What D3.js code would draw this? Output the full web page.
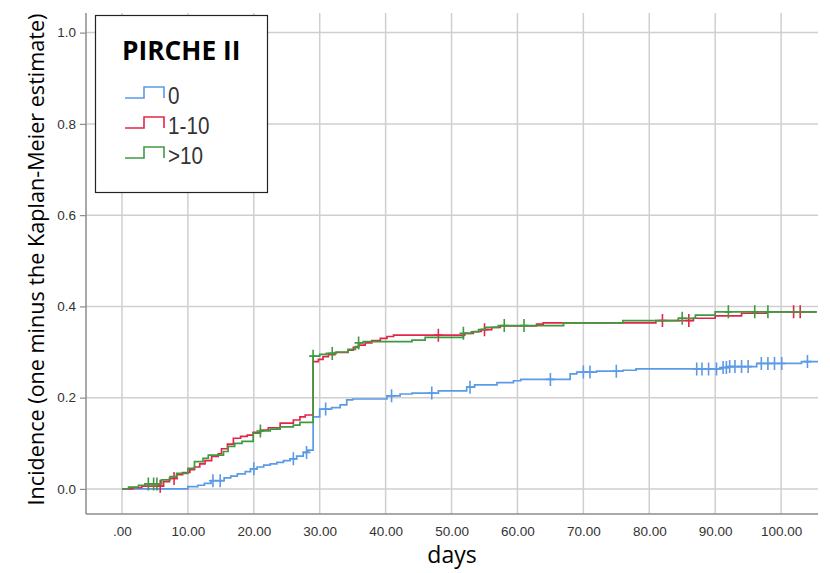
<!DOCTYPE html>
<html>
<head>
<meta charset="utf-8">
<script src="https://cdn.jsdelivr.net/npm/d3@7"></script>
<style>
  html, body { margin: 0; padding: 0; background: #fff; }
  svg { display: block; }
</style>
</head>
<body>
<svg id="chart" width="830" height="573"></svg>
<script>
// Cumulative incidence (1 - KM) by PIRCHE II group: [day, incidence] step events
const groupNames = ["0", "1-10", ">10"];
const groupColors = ["#5b9ae6", "#e2264b", "#3f9a3f"];

const stepsNone = [
  [0, 0], [10, 0.005], [11.5, 0.008], [12.5, 0.012], [13.5, 0.018], [15.5, 0.024],
  [16.5, 0.028], [17.5, 0.033], [18.7, 0.038], [19.5, 0.044], [20.5, 0.048],
  [21.5, 0.052], [22.5, 0.055], [23.5, 0.058], [24.5, 0.062], [25.5, 0.066],
  [26.5, 0.072], [27.5, 0.08], [28.2, 0.085], [29, 0.158], [30, 0.175],
  [31.8, 0.178], [33.1, 0.184], [34.1, 0.195], [35, 0.197], [40.2, 0.204],
  [42.2, 0.208], [44, 0.21], [48, 0.215], [52.3, 0.223], [53.5, 0.228],
  [56.9, 0.233], [59.4, 0.237], [60.5, 0.24], [68, 0.252], [69, 0.256],
  [72, 0.258], [76, 0.26], [78, 0.263], [91, 0.266], [92, 0.268],
  [96.3, 0.275], [103.1, 0.279]
];
const stepsLow = [
  [0, 0], [1.6, 0.003], [3, 0.006], [6.3, 0.016], [7.2, 0.023], [8.3, 0.031],
  [9.2, 0.036], [10.3, 0.042], [11, 0.048], [11.8, 0.055], [12.6, 0.062],
  [13.6, 0.071], [14.6, 0.077], [15.1, 0.088], [16, 0.098], [16.9, 0.111],
  [18, 0.115], [19, 0.118], [19.9, 0.124], [21, 0.129], [22.2, 0.134],
  [24, 0.144], [26, 0.151], [27, 0.158], [27.8, 0.162], [29, 0.279],
  [29.8, 0.284], [30.5, 0.29], [31.3, 0.294], [32.3, 0.299], [34.3, 0.304],
  [35.1, 0.31], [35.9, 0.315], [36.9, 0.32], [37.9, 0.325], [39.2, 0.33],
  [40.2, 0.334], [41.2, 0.337], [52, 0.341], [53.3, 0.345], [54.5, 0.349],
  [56.1, 0.354], [57.4, 0.357], [62.9, 0.361], [63.9, 0.364], [81, 0.369],
  [86.7, 0.374], [90, 0.379], [94, 0.385], [97.8, 0.388]
];
const stepsHigh = [
  [0, 0], [1, 0.004], [2.5, 0.008], [3.5, 0.011], [6, 0.02], [7.3, 0.027],
  [8.3, 0.034], [10, 0.045], [11, 0.06], [12.3, 0.067], [13.1, 0.074],
  [15.4, 0.082], [16.1, 0.093], [17.1, 0.1], [18.2, 0.104], [19.9, 0.122],
  [21, 0.127], [22.5, 0.131], [24, 0.136], [26, 0.14], [27, 0.146],
  [29, 0.291], [30, 0.295], [31, 0.297], [32.5, 0.3], [34.3, 0.306],
  [35.4, 0.312], [35.9, 0.32], [36.6, 0.323], [44, 0.326], [46, 0.332],
  [51.8, 0.341], [53, 0.344], [54.1, 0.349], [55.1, 0.354], [57.1, 0.358],
  [67, 0.364], [76, 0.369], [84.4, 0.374], [87, 0.381], [90, 0.388]
];

// Censored observations (days)
const censorNone = [13.8, 14.9, 20, 26, 28, 30.9, 40.9, 47, 52.8, 65, 70, 71, 75,
  87.2, 88, 89, 90.2, 91.2, 91.7, 92.2, 93, 94, 95, 97, 98, 99, 100.1, 104];
const censorLow = [5.8, 7.9, 48, 55, 82, 86, 101.9, 102.9];
const censorHigh = [4, 4.8, 5.3, 21, 29, 31.9, 35.9, 51.8, 58, 61, 85, 92, 96, 98];

// Follow-up end
const lastDay = [105.6, 105.4, 105.4];

const xTicks = [0, 10, 20, 30, 40, 50, 60, 70, 80, 90, 100];
const yTicks = [0, 0.2, 0.4, 0.6, 0.8, 1.0];

const svg = d3.select("#chart");
const x = d3.scaleLinear().domain([-5.46, 105.6]).range([86, 818]);
const y = d3.scaleLinear().domain([-0.055, 1.043]).range([514, 13]);

const gridColor = "#cfcfcf";
const axisColor = "#8c8c8c";

// Grid
svg.append("g").selectAll("line").data(xTicks).join("line")
  .attr("x1", d => x(d)).attr("x2", d => x(d))
  .attr("y1", y.range()[1]).attr("y2", y.range()[0])
  .attr("stroke", gridColor).attr("stroke-width", 1.5);
svg.append("g").selectAll("line").data(yTicks).join("line")
  .attr("x1", x.range()[0]).attr("x2", x.range()[1])
  .attr("y1", d => y(d)).attr("y2", d => y(d))
  .attr("stroke", gridColor).attr("stroke-width", 1.5);

// Axes
const xAxis = d3.axisBottom(x).tickValues(xTicks).tickSize(0).tickPadding(12)
  .tickFormat(d => d === 0 ? ".00" : d3.format(".2f")(d));
const gx = svg.append("g").attr("transform", `translate(0,${y.range()[0]})`).call(xAxis);
const yAxis = d3.axisLeft(y).tickValues(yTicks).tickSize(6).tickPadding(4)
  .tickFormat(d3.format(".1f"));
const gy = svg.append("g").attr("transform", `translate(${x.range()[0]},0)`).call(yAxis);
[gx, gy].forEach(g => {
  g.select(".domain").attr("stroke", axisColor).attr("stroke-width", 1.5);
  g.selectAll(".tick line").attr("stroke", axisColor).attr("stroke-width", 1.2);
  g.selectAll(".tick text").attr("fill", "#333")
    .style("font-family", "'Liberation Sans', Arial, sans-serif").style("font-size", "13.5px");
});
gy.select(".domain").attr("d", `M0,${y.range()[0]}V${y.range()[1]}`);
gx.select(".domain").attr("d", `M${x.range()[0]},0H${x.range()[1]}`);

// Step curves
const series = [
  { steps: stepsNone, censor: censorNone },
  { steps: stepsLow, censor: censorLow },
  { steps: stepsHigh, censor: censorHigh }
];
const line = d3.line().x(d => x(d[0])).y(d => y(d[1])).curve(d3.curveStepAfter);

function valueAt(steps, day) {
  let v = 0;
  for (const s of steps) { if (s[0] <= day) v = s[1]; }
  return v;
}

series.forEach((s, i) => {
  const pts = s.steps.concat([[lastDay[i], s.steps[s.steps.length - 1][1]]]);
  const g = svg.append("g");
  g.append("path").datum(pts).attr("d", line)
    .attr("fill", "none").attr("stroke", groupColors[i]).attr("stroke-width", 1.7);
  g.selectAll("path.c").data(s.censor).join("path").attr("class", "c")
    .attr("d", d => {
      const cx = x(d), cy = y(valueAt(s.steps, d));
      return `M${cx},${cy - 6.5}V${cy + 6.5}M${cx - 4},${cy}H${cx + 4}`;
    })
    .attr("stroke", groupColors[i]).attr("stroke-width", 1.6);
});

// Axis titles
svg.append("text").attr("x", 452).attr("y", 563).attr("text-anchor", "middle")
  .style("font-family", "'Open Sans', sans-serif").style("font-size", "23px")
  .attr("fill", "#000").text("days");
svg.append("text").attr("transform", "translate(44,259.5) rotate(-90)")
  .attr("text-anchor", "middle")
  .style("font-family", "'Open Sans', sans-serif").style("font-size", "21.6px")
  .attr("fill", "#000").text("Incidence (one minus the Kaplan-Meier estimate)");

// Legend
const lg = svg.append("g");
lg.append("rect").attr("x", 95.5).attr("y", 15.5).attr("width", 172).attr("height", 177)
  .attr("fill", "#fff").attr("stroke", "#222").attr("stroke-width", 1.2);
lg.append("text").attr("x", 122).attr("y", 60)
  .style("font-family", "'Open Sans', sans-serif").style("font-weight", "bold").style("font-size", "26.3px")
  .attr("fill", "#000").text("PIRCHE II");
groupNames.forEach((name, i) => {
  const top = 87 + 30 * i, bot = 98 + 30 * i;
  lg.append("path").attr("d", `M125,${bot}H144V${top}H164V${bot}`)
    .attr("fill", "none").attr("stroke", groupColors[i]).attr("stroke-width", 1.6);
  lg.append("text").attr("transform", `translate(168,${bot + 6}) scale(0.88,1)`)
    .style("font-family", "'Liberation Sans', Arial, sans-serif").style("font-size", "23.5px")
    .attr("fill", "#333").text(name);
});
</script>
</body>
</html>
